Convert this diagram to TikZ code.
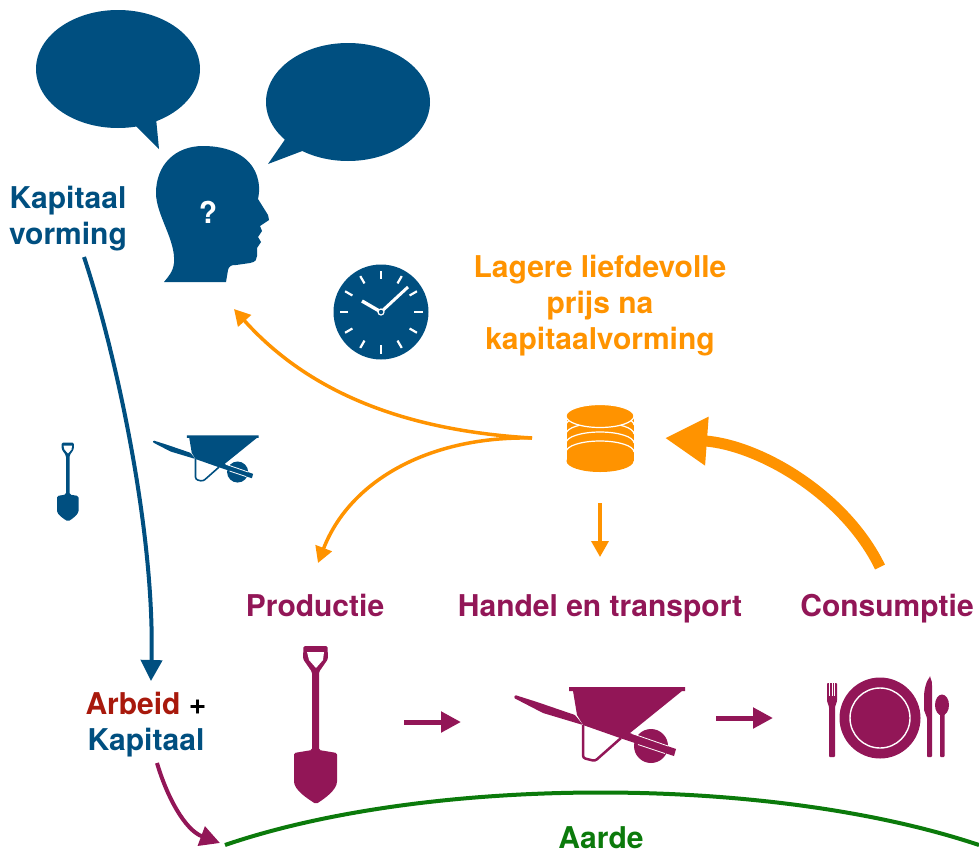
\documentclass[tikz,border=0pt]{standalone}
\usepackage{fontspec}
\setmainfont{TeX Gyre Heros}
\usetikzlibrary{%
  arrows.meta%
}
\definecolor{duskblue}{HTML}{004F80}
\definecolor{amber}{HTML}{FF9300}
\definecolor{plum}{HTML}{921657}
\definecolor{earthgreen}{HTML}{0B7A0B}
\definecolor{brick}{HTML}{A8190C}
\tikzset{
  lbl/.style={font=\bfseries\fontsize{30}{36}\selectfont,align=center,inner sep=0pt},
  bubble/.style={fill=duskblue},
  pricearrow/.style={amber,line width=3.5pt,-{Triangle[length=16pt,width=17pt]}},
  steparrow/.style={plum,line width=5pt,-{Triangle[length=20pt,width=20pt]}},
  shovel/.pic={
    \fill[rounded corners=1.5] (-12.5,-79) -- (11.5,-79) -- (12,-66) -- (3,-53) -- (3,25) -- (21,28)
      -- (21,55) .. controls (21,65) and (8,74) .. (0,79)
      .. controls (-8,74) and (-22,65) .. (-22,55) -- (-22,28) -- (-4,25) -- (-4,-53) -- (-13,-66) -- cycle;
    \fill[white] (-9,-73) -- (8,-73) -- (7,-65) -- (0,-57) -- (-7,-65) -- cycle;
  },
  wheelbarrow/.pic={
    \fill (51,21) circle (17);
    \fill (-31,-38) -- (85,-38) -- (85,-34) -- (82,-34) -- (30,8) -- (20,13) -- (-17,0) -- (-23,-10) -- (-27,-34) -- (-31,-34) -- cycle;
    \draw[line width=#1,rounded corners=2.5,fill=none] (-17,0) -- (-17,33) -- (-5,36) -- (21,13);
    \fill[rounded corners=1] (-85,-30) -- (-63,-23) -- (-25,-10) -- (-17,0) -- (-57,-12) -- (-86,-27) -- cycle;
    \fill (24,6) -- (76,24) -- (74,31) -- (20,13) -- cycle;
    \draw[white,line width=.8pt] (32,8.5) -- (68,21);
    \draw[white,line width=.8pt] (38,19.5) -- (65,28.5);
  },
  cutlery/.pic={
    \fill (0,0) circle (40.5);
    \draw[white,line width=1.4pt] (0,0) circle (30);
    \fill[rounded corners=.8] (-53,-35) -- (-43,-35) -- (-43,-17) -- (-45,-11) -- (-45,39) -- (-51,39) -- (-51,-11) -- (-53,-17) -- cycle;
    \foreach \t in {-50.5,-48,-45.5} {
      \draw[white,line width=.5pt] (\t,-35) -- (\t,-22);
    }
    \fill[rounded corners=.8] (50,-41) .. controls (52,-38) and (52,-35) .. (52,-30) -- (52,39) -- (47,39) -- (47,0)
      -- (44,-8) -- (44,-20) .. controls (44,-30) and (47,-38) .. (50,-41) -- cycle;
    \fill (62,-13) ellipse (7 and 10.5);
    \fill[rounded corners=.8] (60,-5) -- (64.5,-5) -- (64.5,39) -- (60,39) -- cycle;
  },
}

\begin{document}
\begin{tikzpicture}[x=1pt,y=-1pt]

\useasboundingbox (0,0) rectangle (979,854);

% speech bubbles
\fill[bubble] (118,69) ellipse (82 and 59);
\fill[bubble] (135,125) -- (159,149) -- (156,118) -- cycle;
\fill[bubble] (348,102) ellipse (82 and 59);
\fill[bubble] (286,138) -- (268,164) -- (305,150) -- cycle;

% head
\fill[duskblue] (164,282) -- (226,282) -- (228,270) .. controls (229,266) and (231,265) .. (236,265)
  -- (250,263) .. controls (256,262) and (257,259) .. (257,256) -- (257,248) -- (261,242) -- (258,237)
  -- (262,231) -- (260,226) -- (269,220) -- (268,215) -- (258,199)
  .. controls (260,190) and (259,182) .. (257,176) .. controls (250,155) and (228,146) .. (203,146)
  .. controls (175,146) and (156,165) .. (156,193) .. controls (156,215) and (176,240) .. (174,263)
  .. controls (173,272) and (168,277) .. (164,282) -- cycle;
\node[lbl,white] (qmark) at (208,212) {?};

% clock
\fill[duskblue] (381,312) circle (47.5);
\foreach \a in {0,30,...,330} {
  \draw[white,line width=2.2pt] (381,312) ++(\a:33) -- ++(\a:8.5);
}
\draw[white,line width=3pt] (381,312) -- (408,287);
\draw[white,line width=3.4pt] (381,312) -- (362,301);
\draw[white,fill=duskblue,line width=1.2pt] (381,312) circle (3);

% coins
\fill[amber] (566.5,416) rectangle (633.5,461);
\fill[amber] (600,461) ellipse (33.5 and 11);
\foreach \y in {1,...,4} {
  \draw[white,line width=1.2pt] (566,416+9*\y) arc (180:360:34 and 11);
}
\fill[amber,draw=white,line width=1.2pt] (600,416) ellipse (34 and 11.5);
\coordinate (coins) at (665,438);
\coordinate (fork) at (532,438);

% small tools
\path pic[fill=duskblue,scale=.5] at (68,482) {shovel};
\path pic[fill=duskblue,draw=duskblue,scale=.62] at (206,459) {wheelbarrow=1.6};

% labels
\node[lbl,duskblue] (vorming) at (68,219) {Kapitaal\\vorming};
\node[lbl,amber] (prijs) at (600,306) {Lagere liefdevolle\\prijs na\\kapitaalvorming};
\node[lbl,plum,anchor=base] (productie) at (315,616) {Productie};
\node[lbl,plum,anchor=base] (handel) at (600,616) {Handel en transport};
\node[lbl,plum,anchor=base] (consumptie) at (887,616) {Consumptie};
\node[lbl] (arbeid) at (146,725) {\textcolor{brick}{Arbeid} +\\\textcolor{duskblue}{Kapitaal}};
\node[lbl,earthgreen,anchor=base] (aarde) at (601,848) {Aarde};

% big tools
\path pic[fill=plum] at (316,725) {shovel};
\path pic[fill=plum,draw=plum] at (600,725) {wheelbarrow=2.5};
\path pic[fill=plum] at (880,718) {cutlery};

% arrows
\coordinate (headtip) at (234,309);
\coordinate (prodtip) at (318,563);
\coordinate (coinsout) at (600,503);
\coordinate (handelin) at (600,557);
\coordinate (consout) at (880,567);
\draw[pricearrow] (fork) .. controls (430,432) and (320,405) .. (headtip);
\draw[pricearrow] (fork) .. controls (430,436) and (350,480) .. (prodtip);
\draw[pricearrow] (coinsout) -- (handelin);
\draw[amber,line width=11pt,-{Triangle[length=42pt,width=46pt]}] (consout) .. controls (845,495) and (760,445) .. (coins);

\coordinate (vormingout) at (84,257);
\coordinate (arbeidtop) at (151,681);
\coordinate (kapitaalout) at (157,763);
\coordinate (aardetip) at (220,843);
\draw[duskblue,line width=4pt,-{Triangle[length=21pt,width=21pt]}] (vormingout) .. controls (115,350) and (155,530) .. (arbeidtop);
\draw[plum,line width=4pt,-{Triangle[length=20pt,width=20pt]}] (kapitaalout) .. controls (167,797) and (185,830) .. (aardetip);

\coordinate (shovelout) at (404,722);
\coordinate (barrowin) at (461,722);
\coordinate (barrowout) at (716,718);
\coordinate (platein) at (773,718);
\draw[steparrow] (shovelout) -- (barrowin);
\draw[steparrow] (barrowout) -- (platein);

\coordinate (aardeleft) at (225,845);
\coordinate (aarderight) at (979,845);
\draw[earthgreen,line width=4pt] (aardeleft) .. controls (430,775) and (770,775) .. (aarderight);

\end{tikzpicture}
\end{document}
